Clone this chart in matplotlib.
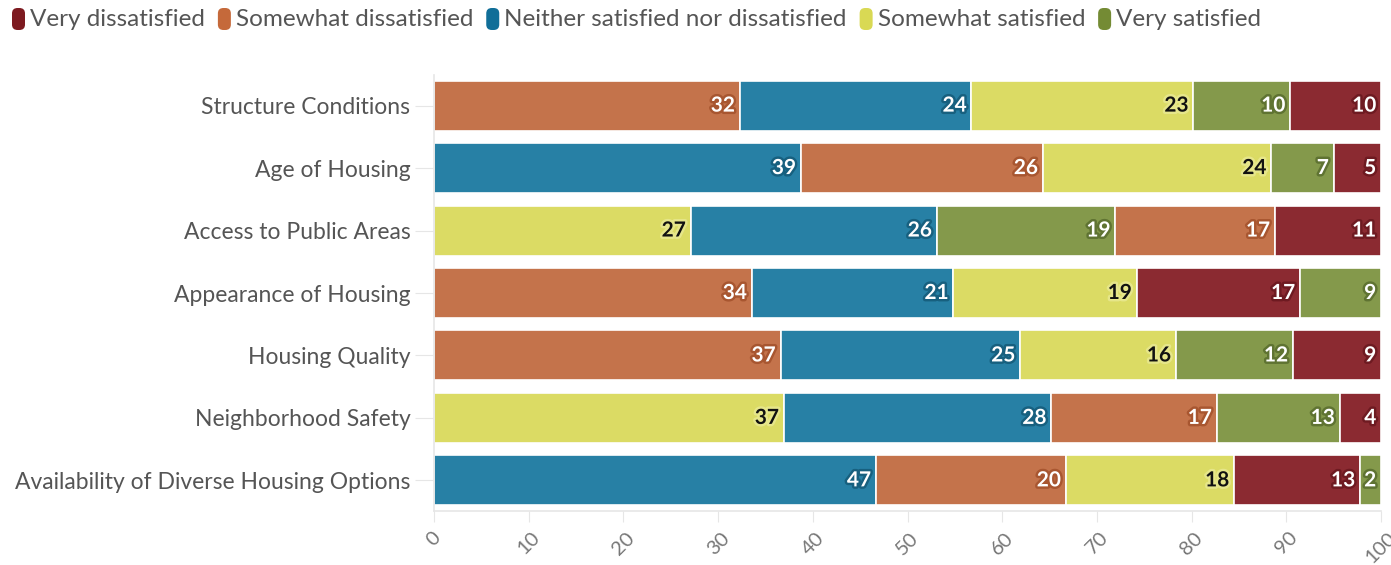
import matplotlib
matplotlib.use("Agg")
import matplotlib.pyplot as plt
import matplotlib.patheffects as pe
from matplotlib.patches import FancyBboxPatch
import numpy as np

plt.rcParams["font.family"] = ["Lato", "DejaVu Sans"]

# rows, top to bottom
topics = [
    "Structure Conditions",
    "Age of Housing",
    "Access to Public Areas",
    "Appearance of Housing",
    "Housing Quality",
    "Neighborhood Safety",
    "Availability of Diverse Housing Options",
]
levels = [
    "Very dissatisfied",
    "Somewhat dissatisfied",
    "Neither satisfied nor dissatisfied",
    "Somewhat satisfied",
    "Very satisfied",
]

# percentages per response level (one entry per topic)
very_dissatisfied = [9.6, 5.0, 11.2, 17.25, 9.3, 4.35, 13.3]
somewhat_dissatisfied = [32.3, 25.55, 16.85, 33.55, 36.6, 17.45, 20.05]
neither = [24.45, 38.75, 26.0, 21.3, 25.3, 28.25, 46.65]
somewhat_satisfied = [23.45, 24.1, 27.1, 19.35, 16.45, 36.95, 17.8]
very_satisfied = [10.2, 6.6, 18.85, 8.55, 12.35, 13.0, 2.2]

bar_colors = ["#8b2a31", "#c4734b", "#2780a5", "#dbdb64", "#84994b"]
legend_colors = ["#7d1a20", "#c5693a", "#106e98", "#d9d954", "#748b34"]
stroke_colors = ["#6e1a21", "#a85630", "#17607f", "#e6e68a", "#5f7332"]
text_colors = ["white", "white", "white", "#111111", "white"]

data = np.array([very_dissatisfied, somewhat_dissatisfied, neither,
                 somewhat_satisfied, very_satisfied])

fig = plt.figure(figsize=(13.91, 5.65), dpi=100)
ax = fig.add_axes([434 / 1391, 1 - 511 / 565, 947 / 1391, 436 / 565])

# each row is stacked from largest to smallest segment
for i, topic in enumerate(topics):
    order = np.argsort(-data[:, i], kind="stable")
    left = 0.0
    for k in order:
        w = data[k, i]
        ax.barh(i, w, left=left, height=0.8, color=bar_colors[k],
                edgecolor="white", linewidth=1.2, zorder=2)
        ax.text(left + w - 0.5, i, f"{round(w)}", ha="right", va="center",
                fontsize=15, fontweight="bold", color=text_colors[k], zorder=3,
                path_effects=[pe.withStroke(linewidth=3.5, foreground=stroke_colors[k])])
        left += w

ax.set_xlim(0, 100)
ax.set_ylim(6.49, -0.49)
ax.set_yticks(range(len(topics)))
ax.set_yticklabels(topics, fontsize=16.5, color="#555555")
ax.set_xticks(range(0, 101, 10))
ax.set_xticklabels([str(t) for t in range(0, 101, 10)], rotation=45,
                   fontsize=14.5, color="#777777", ha="center", va="top")
ax.tick_params(axis="y", length=14, color="#e6e6e6", pad=3)
ax.tick_params(axis="x", length=8, color="#e6e6e6", pad=5)
for side in ["top", "right"]:
    ax.spines[side].set_visible(False)
for side in ["left", "bottom"]:
    ax.spines[side].set_color("#e6e6e6")
    ax.spines[side].set_linewidth(1.2)

# legend across the top
fig.canvas.draw()
renderer = fig.canvas.get_renderer()
x = 12
yc = 565 - 19
for col, lab in zip(legend_colors, levels):
    fig.patches.append(FancyBboxPatch((x / 1391, (yc - 11) / 565), 13 / 1391, 22 / 565,
                                      boxstyle="round,pad=0,rounding_size=0.004",
                                      transform=fig.transFigure, facecolor=col,
                                      edgecolor="none", mutation_aspect=2.4))
    t = fig.text((x + 18) / 1391, yc / 565, lab, ha="left", va="center",
                 fontsize=17.5, color="#555555")
    bb = t.get_window_extent(renderer)
    x = bb.x1 + 13

fig.savefig("out.png", dpi=100)
